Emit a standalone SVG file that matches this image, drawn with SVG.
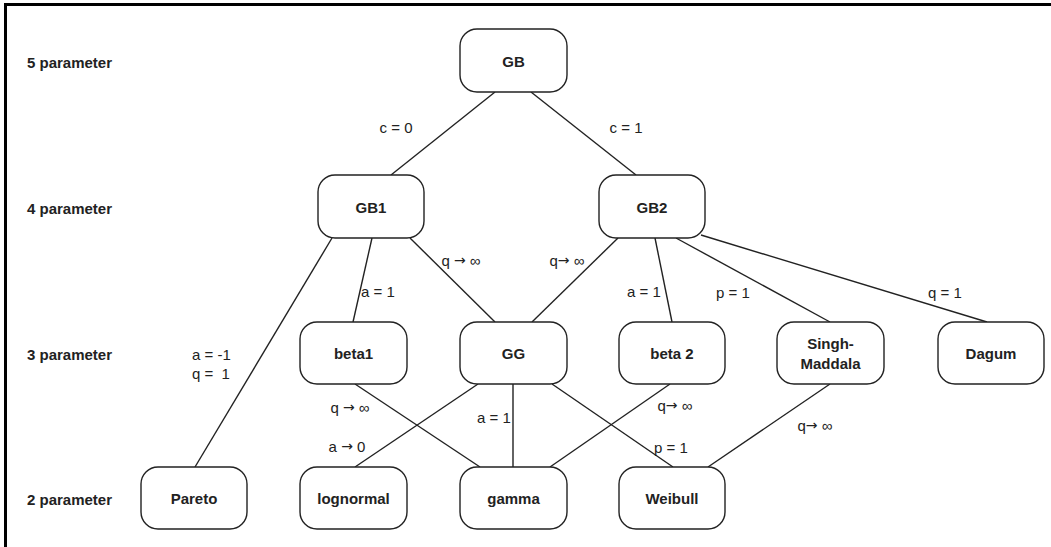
<svg xmlns="http://www.w3.org/2000/svg" width="1051" height="547" viewBox="0 0 1051 547">
<style>
.node rect{fill:#fff;stroke:#222;stroke-width:1.4}
.node text{font-family:"Liberation Sans",Arial,sans-serif;font-size:15px;font-weight:bold;fill:#222;text-anchor:middle;dominant-baseline:central}
.row{font-family:"Liberation Sans",Arial,sans-serif;font-size:15px;font-weight:bold;fill:#222;dominant-baseline:central}
.lbl{font-family:"Liberation Sans",Arial,sans-serif;font-size:15px;fill:#222;text-anchor:middle;dominant-baseline:central}
.ar{font-family:"DejaVu Sans",sans-serif;font-size:14px}
#connectors line{stroke:#222;stroke-width:1.4}
</style>
<rect width="1051" height="547" fill="#fff"/>
<g id="frame">
<line x1="5.5" y1="3" x2="5.5" y2="547" stroke="#000" stroke-width="3"/>
<line x1="4" y1="4.5" x2="1051" y2="4.5" stroke="#000" stroke-width="3"/>
</g>
<g id="row-labels">
<text class="row" x="27" y="62">5 parameter</text>
<text class="row" x="27" y="208">4 parameter</text>
<text class="row" x="27" y="354">3 parameter</text>
<text class="row" x="27" y="499">2 parameter</text>
</g>
<g id="connectors">
<line x1="495" y1="92" x2="391" y2="175"/>
<line x1="531" y1="92" x2="636" y2="175"/>
<line x1="332" y1="238" x2="195" y2="467"/>
<line x1="372" y1="238" x2="353" y2="322"/>
<line x1="410" y1="238" x2="495" y2="322"/>
<line x1="618" y1="238" x2="532" y2="322"/>
<line x1="655" y1="238" x2="672" y2="322"/>
<line x1="676" y1="238" x2="830" y2="322"/>
<line x1="701" y1="235" x2="987" y2="322"/>
<line x1="355" y1="384" x2="480" y2="467"/>
<line x1="478" y1="384" x2="355" y2="467"/>
<line x1="513" y1="384" x2="513" y2="467"/>
<line x1="552" y1="384" x2="673" y2="467"/>
<line x1="670" y1="384" x2="550" y2="467"/>
<line x1="830" y1="384" x2="708" y2="467"/>
</g>
<g id="edge-labels">
<text class="lbl" x="396" y="127">c = 0</text>
<text class="lbl" x="626" y="127">c = 1</text>
<text class="lbl" x="461" y="260">q <tspan class="ar">→</tspan> ∞</text>
<text class="lbl" x="567" y="260">q<tspan class="ar">→</tspan> ∞</text>
<text class="lbl" x="378" y="291">a = 1</text>
<text class="lbl" x="644" y="291">a = 1</text>
<text class="lbl" x="733" y="292">p = 1</text>
<text class="lbl" x="945" y="292">q = 1</text>
<text class="lbl" x="192" y="354" style="text-anchor:start">a = -1</text>
<text class="lbl" x="192" y="373" style="text-anchor:start;white-space:pre" xml:space="preserve">q =  1</text>
<text class="lbl" x="350" y="407">q <tspan class="ar">→</tspan> ∞</text>
<text class="lbl" x="347" y="446">a <tspan class="ar">→</tspan> 0</text>
<text class="lbl" x="494" y="417">a = 1</text>
<text class="lbl" x="675" y="405">q<tspan class="ar">→</tspan> ∞</text>
<text class="lbl" x="671" y="447">p = 1</text>
<text class="lbl" x="815" y="425">q<tspan class="ar">→</tspan> ∞</text>
</g>
<g id="GB" class="node"><rect x="460" y="29" width="107" height="63" rx="17"/><text x="513.5" y="61">GB</text></g>
<g id="GB1" class="node"><rect x="318" y="175" width="106" height="63" rx="17"/><text x="371" y="207">GB1</text></g>
<g id="GB2" class="node"><rect x="599" y="175" width="106" height="63" rx="17"/><text x="652" y="207">GB2</text></g>
<g id="beta1" class="node"><rect x="300" y="322" width="107" height="62" rx="17"/><text x="353.5" y="353">beta1</text></g>
<g id="GG" class="node"><rect x="460" y="322" width="107" height="62" rx="17"/><text x="513.5" y="353">GG</text></g>
<g id="beta2" class="node"><rect x="619" y="322" width="106" height="62" rx="17"/><text x="672" y="353">beta 2</text></g>
<g id="SinghMaddala" class="node"><rect x="777" y="322" width="107" height="62" rx="17"/><text x="830.5" y="343">Singh-</text><text x="830.5" y="363">Maddala</text></g>
<g id="Dagum" class="node"><rect x="938" y="322" width="106" height="62" rx="17"/><text x="991" y="353">Dagum</text></g>
<g id="Pareto" class="node"><rect x="141" y="467" width="106" height="62" rx="17"/><text x="194" y="498">Pareto</text></g>
<g id="lognormal" class="node"><rect x="300" y="467" width="107" height="62" rx="17"/><text x="353.5" y="498">lognormal</text></g>
<g id="gamma" class="node"><rect x="460" y="467" width="107" height="62" rx="17"/><text x="513.5" y="498">gamma</text></g>
<g id="Weibull" class="node"><rect x="619" y="467" width="106" height="62" rx="17"/><text x="672" y="498">Weibull</text></g>
</svg>
